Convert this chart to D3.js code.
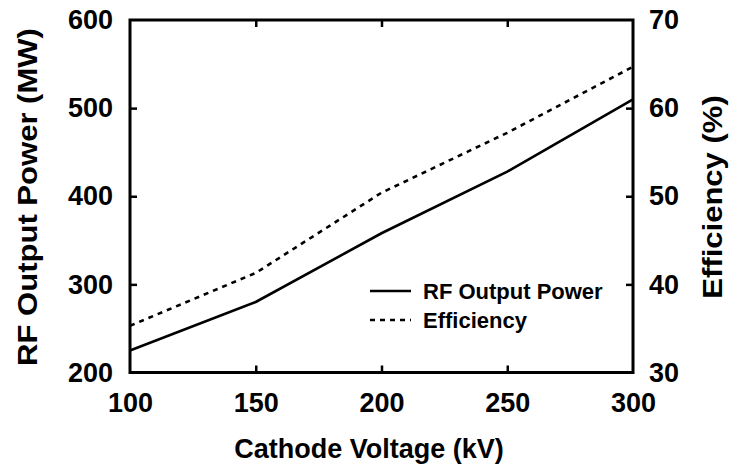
<!DOCTYPE html>
<html>
<head>
<meta charset="utf-8">
<script src="https://d3js.org/d3.v7.min.js"></script>
<style>
    body { margin: 0; background: #fff; }
    text { font-family: "Liberation Sans", Arial, sans-serif; font-weight: bold; fill: #000; }
</style>
</head>
<body>
<div id="chart"></div>
<script>
    // data
    var voltage = [100, 150, 200, 250, 300];
    var power = [225, 280, 358, 428, 510];
    var efficiency = [35.3, 41.3, 50.4, 57.2, 64.7];
    var xTicks = [100, 150, 200, 250, 300];
    var yTicks = [200, 300, 400, 500, 600];
    var y2Ticks = [30, 40, 50, 60, 70];

    var W = 732, H = 467;
    var plotL = 130, plotR = 633, plotT = 20, plotB = 372.5;

    var svg = d3.select("#chart").append("svg")
        .attr("width", W)
        .attr("height", H);

    var x = d3.scaleLinear().domain([100, 300]).range([plotL, plotR]);
    var y = d3.scaleLinear().domain([200, 600]).range([plotB, plotT]);
    var y2 = d3.scaleLinear().domain([30, 70]).range([plotB, plotT]);

    var tickLen = 7;

    // bottom axis, ticks point inward
    var xAxis = svg.append("g")
        .attr("transform", "translate(0," + plotB + ")")
        .call(d3.axisBottom(x).tickValues(xTicks).tickSize(-tickLen).tickPadding(20));
    // top axis ticks only
    var xTop = svg.append("g")
        .attr("transform", "translate(0," + plotT + ")")
        .call(d3.axisTop(x).tickValues(xTicks).tickSize(-tickLen).tickFormat(""));
    // left axis
    var yAxis = svg.append("g")
        .attr("transform", "translate(" + plotL + ",0)")
        .call(d3.axisLeft(y).tickValues(yTicks).tickSize(-tickLen).tickPadding(17));
    // right axis
    var y2Axis = svg.append("g")
        .attr("transform", "translate(" + plotR + ",0)")
        .call(d3.axisRight(y2).tickValues(y2Ticks).tickSize(-tickLen).tickPadding(16));

    [xAxis, xTop, yAxis, y2Axis].forEach(function (g) {
        g.select(".domain").remove();
        g.selectAll(".tick line").attr("stroke", "#000").attr("stroke-width", 2.5);
        g.selectAll("text").attr("font-size", 27).attr("fill", "#000")
            .attr("font-family", "Liberation Sans, Arial, sans-serif")
            .attr("font-weight", "bold");
        // end ticks sit on the frame corners
        g.selectAll(".tick line").filter(function (d, i, n) { return i == 0 || i == n.length - 1; }).remove();
    });

    // frame
    svg.append("rect")
        .attr("x", plotL)
        .attr("y", plotT)
        .attr("width", plotR - plotL)
        .attr("height", plotB - plotT)
        .attr("fill", "none")
        .attr("stroke", "#000")
        .attr("stroke-width", 3);

    // lines
    var powerLine = d3.line()
        .x(function (d, i) { return x(voltage[i]); })
        .y(function (d) { return y(d); });
    var effLine = d3.line()
        .x(function (d, i) { return x(voltage[i]); })
        .y(function (d) { return y2(d); });

    svg.append("path")
        .datum(power)
        .attr("d", powerLine)
        .attr("fill", "none")
        .attr("stroke", "#000")
        .attr("stroke-width", 2.6);

    svg.append("path")
        .datum(efficiency)
        .attr("d", effLine)
        .attr("fill", "none")
        .attr("stroke", "#000")
        .attr("stroke-width", 2.6)
        .attr("stroke-dasharray", "5,5");

    // axis titles
    svg.append("text")
        .attr("text-anchor", "middle")
        .attr("x", 369)
        .attr("y", 458)
        .attr("font-size", 27)
        .text("Cathode Voltage (kV)");

    svg.append("text")
        .attr("text-anchor", "middle")
        .attr("transform", "translate(37,197) rotate(-90) scale(1.15,1)")
        .attr("font-size", 27)
        .text("RF Output Power (MW)");

    svg.append("text")
        .attr("text-anchor", "middle")
        .attr("transform", "translate(722,197) rotate(-90) scale(1.15,1)")
        .attr("font-size", 27)
        .text("Efficiency (%)");

    // legend
    var legend = [
        { name: "RF Output Power", dash: null, y: 291 },
        { name: "Efficiency", dash: "5,5", y: 320 }
    ];
    legend.forEach(function (d) {
        svg.append("line")
            .attr("x1", 370).attr("x2", 411)
            .attr("y1", d.y).attr("y2", d.y)
            .attr("stroke", "#000")
            .attr("stroke-width", 2.6)
            .attr("stroke-dasharray", d.dash);
        svg.append("text")
            .attr("x", 423)
            .attr("y", d.y + 7.5)
            .attr("font-size", 22)
            .text(d.name);
    });
</script>
</body>
</html>
